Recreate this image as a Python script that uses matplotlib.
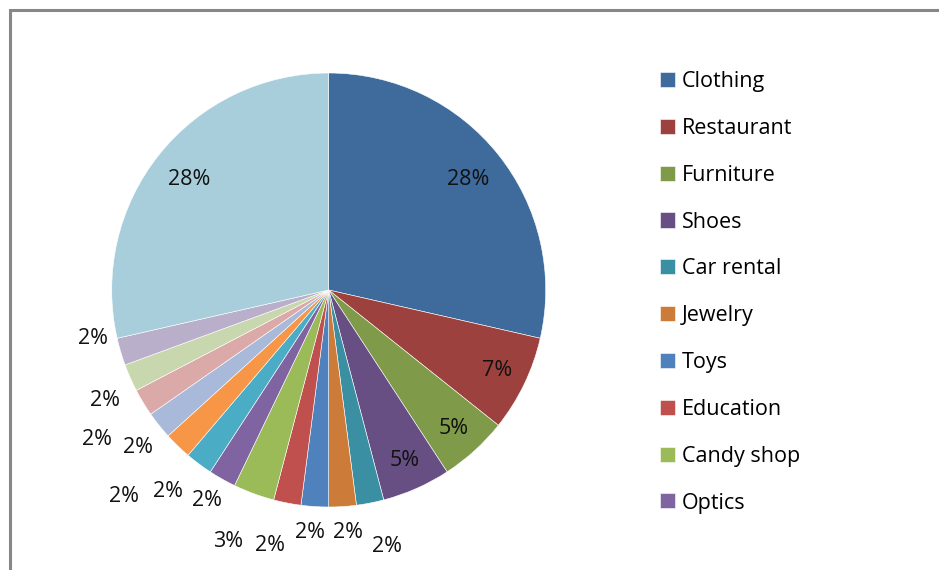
import numpy as np
import matplotlib
matplotlib.use("Agg")
import matplotlib.pyplot as plt
from matplotlib.patches import Rectangle

plt.rcParams['font.family'] = ['Open Sans', 'DejaVu Sans']

# legend names (only the first ten are visible in the chart)
categories = ["Clothing", "Restaurant", "Furniture", "Shoes", "Car rental",
              "Jewelry", "Toys", "Education", "Candy shop", "Optics"]
# slice shares in percent, clockwise from 12 o'clock
shares = [28, 7, 5, 5, 2, 2, 2, 2, 3, 2, 2, 2, 2, 2, 2, 2, 28]
colors = ["#3e6a9c", "#9d413e", "#7f9a48", "#674f84", "#3a8fa3", "#cc7b38",
          "#4f81bd", "#c0504d", "#9bbb59", "#8064a2", "#4bacc6", "#f79646",
          "#a9b9da", "#dba9a8", "#c9d7ae", "#baafcb", "#a8cedc"]

# percent label placement: distance from centre (pie radii) and
# clockwise nudge from the slice's mid-angle (degrees)
label_r = [0.82, 0.86, 0.86, 0.86, 1.21, 1.12, 1.12, 1.21, 1.25, 1.12,
           1.19, 1.34, 1.14, 1.27, 1.15, 1.11, 0.82]
label_nudge = [0, 0, 0, 0, -1.8, -0.9, 0.7, 1.9, 1.6, 0.7,
               1.8, 0.8, -0.9, -1.7, -2.3, 5.0, 0]

W, H = 939, 570
fig = plt.figure(figsize=(W / 100, H / 100), dpi=100)

# grey chart frame, running off the right and bottom edges
fig.patches.append(Rectangle((10 / W, -0.1), 1.2, (H - 9.5) / H + 0.1,
                             transform=fig.transFigure, fill=False,
                             edgecolor="#878787", linewidth=2.2))

# pie: centre (328.7, 290) px, radius 217 px
cx, cy, rad = 328.7, H - 290, 217
side = 600
ax = fig.add_axes([(cx - side / 2) / W, (cy - side / 2) / H, side / W, side / H])
wedges, _ = ax.pie(shares, colors=colors, startangle=90, counterclock=False,
                   radius=1, wedgeprops=dict(edgecolor="white", linewidth=0.4))
lim = side / 2 / rad
ax.set_xlim(-lim, lim)
ax.set_ylim(-lim, lim)
ax.set_aspect("equal")
ax.axis("off")

for w, v, r, d in zip(wedges, shares, label_r, label_nudge):
    mid = np.deg2rad((w.theta1 + w.theta2) / 2 - d)
    ax.text(r * np.cos(mid), r * np.sin(mid), f"{v}%", ha="center", va="center",
            fontsize=15.5, color="#111111", clip_on=False)

fig.legend(wedges[:len(categories)], categories, loc="upper left",
           bbox_to_anchor=(660 / W, (H - 71) / H), frameon=False, fontsize=15.5,
           handlelength=0.7, handleheight=0.7, handletextpad=0.3,
           labelspacing=1.2, borderpad=0, borderaxespad=0)

fig.savefig("out.png", dpi=100)
